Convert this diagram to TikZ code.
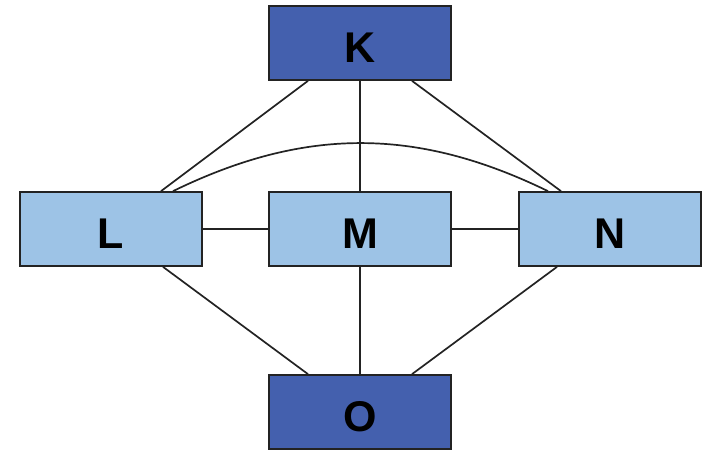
\documentclass[tikz,border=0pt]{standalone}
\usepackage{fontspec}
\setmainfont{Liberation Sans}
\definecolor{darkbox}{RGB}{68,96,174}
\definecolor{lightbox}{RGB}{157,195,230}
\definecolor{edgegray}{RGB}{35,35,35}
\tikzset{
  box/.style={draw=edgegray, line width=1.7pt, minimum width=182pt, minimum height=74pt,
    inner sep=0pt, font=\fontsize{43}{43}\selectfont\bfseries, text height=39pt, text depth=0pt},
  darkb/.style={box, fill=darkbox},
  lightb/.style={box, fill=lightbox},
  link/.style={draw=edgegray, line width=1.7pt}
}
\begin{document}
\begin{tikzpicture}[x=1pt,y=-1pt]
\useasboundingbox (0,0) rectangle (704,452);
\node[darkb] (K) at (360,43) {K};
\node[lightb] (L) at (111,229) {L};
\node[lightb] (M) at (360,229) {M};
\node[lightb] (N) at (610,229) {N};
\node[darkb] (O) at (360,412) {O};
\draw[link] ([xshift=-52pt]K.south) -- ([xshift=50pt]L.north);
\draw[link] (K) -- (M);
\draw[link] ([xshift=52pt]K.south) -- ([xshift=-49pt]N.north);
\draw[link] ([xshift=62pt]L.north) to[bend left=26] ([xshift=-62pt]N.north);
\draw[link] (L) -- (M);
\draw[link] (M) -- (N);
\draw[link] ([xshift=52pt]L.south) -- ([xshift=-52pt]O.north);
\draw[link] (M) -- (O);
\draw[link] ([xshift=-53pt]N.south) -- ([xshift=52pt]O.north);
\end{tikzpicture}
\end{document}
